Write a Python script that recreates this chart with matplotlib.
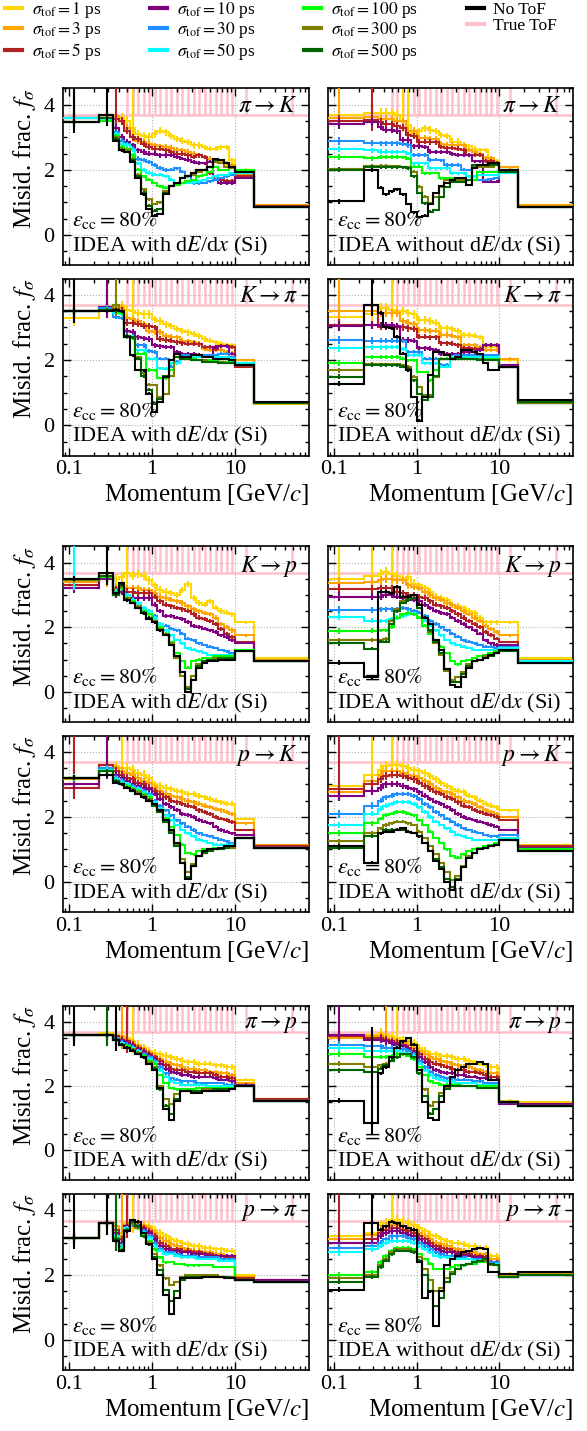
import numpy as np
import matplotlib
matplotlib.use("Agg")
import matplotlib.pyplot as plt
from matplotlib.lines import Line2D
from matplotlib.ticker import MultipleLocator, LogLocator, NullFormatter

plt.rcParams['font.family'] = ['Liberation Serif', 'DejaVu Serif']
plt.rcParams['mathtext.fontset'] = 'stix'
plt.rcParams['font.size'] = 16

# momentum bins [GeV/c]
edges = [0.0, 0.23, 0.341, 0.398, 0.464, 0.541, 0.631, 0.736, 0.858, 1.0,
         1.166, 1.36, 1.585, 1.848, 2.154, 2.512, 2.929, 3.415, 3.981, 4.642,
         5.412, 6.31, 7.356, 8.577, 10.0, 17.1, 80.0]

sigma_ps = [1, 3, 5, 10, 30, 50, 100, 300, 500]
colors = ['#FFD700', '#FFA500', '#B22222', '#800080', '#1E90FF',
          '#00FFFF', '#00FF00', '#808000', '#006400', 'black']
true_tof = 3.68

# per-bin uncertainty and relative size per series (1 ps ... No ToF)
base_err = [0.15, 0.12, 0.1, 0.1, 0.09, 0.09, 0.08, 0.08, 0.08, 0.07, 0.07, 0.07, 0.06,
            0.06, 0.06, 0.06, 0.06, 0.06, 0.05, 0.05, 0.05, 0.05, 0.05, 0.05, 0.03, 0.02]
err_scale = [1.6, 1.3, 1.2, 1.0, 0.8, 0.7, 0.6, 0.5, 0.5, 0.5]

# rows: 1, 3, 5, 10, 30, 50, 100, 300, 500 ps, No ToF
pik_with = [
    [3.6,3.7,3.65,3.6,3.5,3.3,3.1,3.05,3.0,3.1,3.2,3.15,3.05,2.95,2.9,2.85,2.75,2.75,2.7,2.65,2.65,2.7,2.7,2.3,2.0,0.93],
    [3.6,3.7,3.65,3.5,3.3,3.0,2.9,2.85,2.8,2.75,2.72,2.7,2.68,2.62,2.6,2.55,2.5,2.45,2.4,2.35,2.3,2.28,2.2,2.15,1.85,0.93],
    [3.6,3.7,3.55,3.5,3.2,3.0,2.95,2.8,2.7,2.65,2.65,2.6,2.55,2.5,2.5,2.45,2.4,2.45,2.4,1.9,1.75,1.7,1.65,1.65,1.8,0.9],
    [3.6,3.6,3.3,3.0,2.85,2.75,2.6,2.55,2.5,2.5,2.45,2.45,2.45,2.4,2.35,2.3,2.25,2.2,2.2,2.25,1.7,1.6,1.6,1.6,1.75,0.87],
    [3.6,3.6,3.15,2.9,2.8,2.65,2.35,2.3,2.25,2.15,2.05,2.0,2.0,2.05,1.95,1.8,1.6,1.6,1.6,1.65,1.7,1.75,1.8,1.85,1.9,0.87],
    [3.6,3.55,3.1,2.8,2.75,2.6,2.2,2.0,1.9,1.85,1.85,1.8,1.7,1.6,1.6,1.6,1.62,1.65,1.7,1.75,1.8,1.85,1.85,1.9,1.9,0.87],
    [3.47,3.5,3.05,2.7,2.65,2.45,2.0,1.8,1.7,1.6,1.5,1.45,1.5,1.55,1.6,1.65,1.7,1.8,1.85,1.95,2.1,2.0,2.0,2.05,2.0,0.87],
    [3.47,3.6,3.0,2.65,2.6,2.35,1.85,1.4,1.1,0.95,1.0,1.35,1.5,1.6,1.75,1.8,1.85,1.95,2.0,2.1,2.25,2.2,2.1,2.05,1.95,0.87],
    [3.47,3.6,2.95,2.6,2.55,2.3,1.8,1.3,0.9,0.75,0.8,1.3,1.5,1.6,1.75,1.8,1.9,2.0,2.0,2.1,2.3,2.3,2.2,2.1,1.95,0.87],
    [3.47,3.7,2.9,2.6,2.55,2.25,1.75,1.25,0.8,0.6,0.65,1.25,1.5,1.6,1.75,1.8,1.9,2.0,2.0,2.1,2.35,2.3,2.2,2.1,1.95,0.87],
]
pik_without = [
    [3.7,3.74,3.74,3.75,3.74,3.69,3.5,3.38,3.13,3.18,3.28,3.23,3.2,3.08,3.05,2.87,2.87,2.75,2.72,2.65,2.6,2.6,2.3,2.26,2.08,0.92],
    [3.6,3.64,3.56,3.55,3.55,3.5,3.5,3.2,3.2,2.97,2.97,2.95,2.95,2.8,2.77,2.77,2.75,2.75,2.6,2.56,2.5,2.36,2.36,2.2,2.08,0.92],
    [3.5,3.54,3.46,3.4,3.4,3.35,3.3,3.08,3.05,2.87,2.87,2.85,2.85,2.7,2.67,2.67,2.65,2.6,2.46,2.46,2.45,2.26,2.26,2.2,1.95,0.87],
    [3.4,3.46,3.33,3.23,3.23,3.2,2.92,2.92,2.72,2.72,2.7,2.56,2.56,2.55,2.55,2.5,2.46,2.46,2.45,2.26,2.26,1.64,1.64,1.64,1.9,0.87],
    [2.89,2.82,2.82,2.82,2.82,2.82,2.8,2.75,2.46,2.46,2.45,2.31,2.31,2.3,2.15,2.15,2.15,2.0,2.0,1.69,1.69,1.69,1.72,1.75,1.95,0.87],
    [2.64,2.6,2.56,2.56,2.56,2.56,2.56,2.5,2.2,2.2,2.2,2.05,2.05,2.05,2.05,1.9,1.9,1.9,1.8,1.8,1.85,1.85,1.85,1.85,1.92,0.87],
    [2.39,2.36,2.39,2.39,2.39,2.39,2.39,2.35,2.1,2.1,1.9,1.9,1.9,1.74,1.74,1.74,1.64,1.64,1.69,1.69,1.95,1.95,1.95,1.95,2.0,0.87],
    [2.02,2.12,2.12,2.12,2.12,2.12,2.08,2.08,1.95,1.49,1.18,0.97,1.18,1.49,1.69,1.69,1.69,1.69,1.69,2.1,2.1,2.1,2.1,2.15,2.0,0.87],
    [2.0,2.08,2.08,2.08,2.08,2.08,2.08,2.05,1.8,1.28,0.97,0.72,0.77,1.18,1.49,1.64,1.64,1.64,1.69,2.15,2.15,2.15,2.15,2.15,1.95,0.85],
    [1.03,2.0,1.45,1.25,1.35,1.4,1.25,0.95,0.7,0.55,0.6,0.95,1.3,1.5,1.6,1.7,1.75,1.75,1.55,2.05,2.15,2.15,2.2,2.2,2.0,0.85],
]
kpi_with = [
    [3.3,3.6,3.6,3.65,3.55,3.5,3.45,3.4,3.4,3.25,3.2,3.1,3.05,2.95,2.9,2.85,2.8,2.75,2.65,2.6,2.55,2.5,2.45,2.45,2.0,0.67],
    [3.49,3.64,3.6,3.6,3.3,3.25,3.2,3.1,2.9,2.85,2.85,2.75,2.72,2.7,2.6,2.58,2.55,2.5,2.35,2.3,2.3,2.3,2.25,2.2,2.0,0.7],
    [3.49,3.64,3.55,3.5,3.15,3.13,3.1,3.05,3.05,3.0,2.65,2.62,2.6,2.55,2.52,2.5,2.5,2.48,2.4,2.4,2.35,2.42,2.42,2.4,1.8,0.7],
    [3.49,3.64,3.55,3.45,2.9,2.87,2.7,2.67,2.65,2.45,2.42,2.4,2.4,2.25,2.2,2.2,2.2,2.15,2.15,2.15,2.4,2.42,2.42,2.2,1.85,0.7],
    [3.49,3.6,3.33,3.3,2.75,2.72,2.45,2.45,2.27,2.25,2.05,2.05,1.8,1.95,2.15,2.15,2.15,2.1,2.15,2.15,2.15,2.2,2.2,2.1,1.9,0.7],
    [3.49,3.55,3.45,3.4,2.75,2.72,2.3,2.3,2.05,2.05,1.75,1.74,1.9,1.9,2.1,2.1,2.1,2.1,2.1,2.1,2.1,2.1,2.1,2.05,1.9,0.7],
    [3.49,3.55,3.5,3.45,2.7,2.68,2.2,2.2,1.7,1.69,1.45,1.44,1.7,2.1,2.1,2.05,2.05,2.0,2.0,2.0,2.0,1.95,1.95,1.95,1.85,0.7],
    [3.49,3.55,3.69,3.5,2.75,2.7,2.1,1.6,1.25,1.23,0.87,0.97,1.5,2.1,2.05,2.05,2.0,2.0,2.0,1.95,1.95,1.95,1.9,1.9,1.85,0.7],
    [3.49,3.55,3.5,3.5,2.75,2.7,2.05,1.5,1.1,0.67,0.82,1.5,2.0,2.1,2.05,2.05,2.0,2.0,1.95,1.95,1.95,1.9,1.9,1.9,1.85,0.7],
    [3.49,3.49,3.55,3.5,2.72,2.15,1.7,1.69,0.97,0.41,0.72,1.49,2.0,2.2,2.1,2.1,2.15,2.15,2.1,2.1,2.05,2.05,2.05,2.0,1.85,0.72],
]
kpi_without = [
    [3.33,3.4,3.6,3.6,3.55,3.5,3.5,3.45,3.4,3.23,3.23,3.2,3.15,2.97,2.97,2.95,2.9,2.77,2.77,2.75,2.7,2.41,2.41,2.4,2.0,0.75],
    [3.49,3.5,3.44,3.44,3.44,3.44,3.2,3.15,3.1,2.92,2.92,2.9,2.9,2.77,2.77,2.75,2.7,2.46,2.46,2.45,2.4,2.31,2.31,2.3,2.05,0.72],
    [3.08,3.7,3.03,3.03,3.03,3.03,3.0,2.97,2.95,2.72,2.72,2.7,2.7,2.51,2.51,2.5,2.45,2.36,2.36,2.35,2.35,2.46,2.46,2.45,1.85,0.7],
    [3.05,3.08,3.08,3.08,3.08,3.05,2.62,2.62,2.6,2.36,2.36,2.35,2.3,2.2,2.2,2.2,2.2,2.25,2.25,2.25,2.3,2.46,2.46,2.45,1.85,0.7],
    [2.62,2.6,2.6,2.6,2.6,2.6,2.58,2.26,2.26,2.25,2.05,2.05,2.05,1.85,1.85,2.1,2.15,2.15,2.15,2.15,2.15,2.15,2.15,2.15,1.8,0.7],
    [2.36,2.39,2.39,2.39,2.39,2.39,2.35,2.15,2.15,2.15,1.9,1.9,1.9,1.8,1.8,2.1,2.1,2.1,2.1,2.1,2.1,2.1,2.1,2.1,1.8,0.7],
    [1.9,2.1,2.1,2.1,2.1,2.1,2.05,2.0,2.0,1.64,1.64,1.38,1.7,2.05,2.05,2.05,2.05,2.05,2.05,2.05,2.05,2.05,2.05,2.05,1.8,0.7],
    [1.69,1.87,1.87,1.87,1.87,1.87,1.85,1.8,1.49,1.18,0.92,0.92,1.49,2.05,2.05,2.05,2.05,2.05,2.05,2.05,2.05,2.0,2.0,2.0,1.8,0.7],
    [1.49,1.85,1.85,1.85,1.85,1.85,1.8,1.74,1.38,0.97,0.77,0.87,1.5,2.05,2.05,2.05,2.05,2.05,2.05,2.05,2.0,2.0,2.0,2.0,1.8,0.72],
    [1.28,3.69,3.44,3.0,2.97,2.72,2.2,1.69,0.87,0.15,0.87,1.54,2.26,2.26,2.15,2.05,2.1,2.31,2.31,2.25,2.2,1.9,1.69,1.69,1.8,0.77],
]
kp_with = [
    [3.45,3.6,3.5,3.56,3.67,3.6,3.65,3.6,3.45,3.3,3.15,3.1,3.05,3.0,3.15,3.35,2.9,2.75,2.7,2.8,2.6,2.5,2.45,2.4,2.15,1.05],
    [3.4,3.6,3.2,3.3,3.2,3.2,3.2,3.15,3.15,3.05,2.95,2.9,2.85,2.8,2.75,2.65,2.55,2.5,2.45,2.4,2.3,2.1,2.0,1.9,1.75,1.0],
    [3.3,3.55,3.15,3.25,3.1,3.1,3.05,3.05,3.05,2.95,2.8,2.7,2.65,2.6,2.55,2.5,2.4,2.3,2.25,2.2,2.1,1.95,1.8,1.7,1.55,0.95],
    [3.2,3.5,3.0,3.1,3.0,2.9,2.9,2.9,2.9,2.7,2.5,2.35,2.35,2.3,2.25,2.15,2.05,2.0,1.95,1.9,1.85,1.75,1.7,1.6,1.5,0.95],
    [3.45,3.55,3.1,3.2,3.0,2.85,2.75,2.6,2.5,2.35,2.1,2.05,1.95,1.9,1.8,1.65,1.6,1.5,1.45,1.4,1.35,1.3,1.25,1.2,1.3,0.95],
    [3.5,3.55,3.1,3.25,3.0,2.85,2.75,2.6,2.5,2.3,2.1,1.9,1.75,1.6,1.5,1.35,1.3,1.25,1.2,1.15,1.15,1.15,1.15,1.15,1.3,0.95],
    [3.45,3.55,3.05,3.2,2.9,2.8,2.6,2.5,2.4,2.2,2.0,1.8,1.55,1.2,0.95,0.75,0.95,1.0,1.05,1.05,1.1,1.1,1.1,1.1,1.3,0.95],
    [3.45,3.6,3.0,3.25,2.9,2.75,2.65,2.45,2.3,2.2,1.95,1.8,1.5,1.05,0.5,0.15,0.5,0.85,0.95,1.0,1.05,1.05,1.05,1.05,1.25,0.95],
    [3.5,3.6,3.0,3.3,2.85,2.75,2.6,2.45,2.3,2.15,1.9,1.75,1.45,1.1,0.6,0.1,0.35,0.8,0.95,1.0,1.0,1.05,1.05,1.05,1.25,0.95],
    [3.5,3.67,3.05,3.36,2.84,2.75,2.6,2.43,2.27,2.15,1.9,1.75,1.45,1.1,0.6,0.0,0.35,0.75,0.9,0.95,0.95,1.0,1.0,1.0,1.25,0.95],
]
kp_without = [
    [3.48,3.6,3.65,3.7,3.65,3.6,3.5,3.55,3.35,3.3,3.2,3.1,2.95,2.9,2.85,2.7,2.65,2.6,2.5,2.45,2.3,2.15,2.15,2.15,2.15,1.05],
    [3.36,3.4,3.45,3.5,3.5,3.45,3.45,3.3,3.25,3.2,3.1,3.0,2.9,2.85,2.75,2.7,2.6,2.5,2.4,2.3,2.2,2.05,1.95,1.85,1.75,1.0],
    [3.17,3.17,3.2,3.2,3.2,3.1,3.05,3.0,3.0,2.95,2.9,2.8,2.7,2.65,2.6,2.5,2.4,2.3,2.2,2.1,2.0,1.85,1.75,1.65,1.55,0.95],
    [2.95,2.95,2.95,3.0,3.0,2.95,2.9,2.85,2.85,2.8,2.7,2.6,2.5,2.45,2.4,2.3,2.2,2.1,2.0,1.9,1.8,1.6,1.5,1.45,1.45,0.95],
    [2.53,2.53,2.55,2.55,2.55,2.55,2.6,2.55,2.5,2.45,2.35,2.2,2.1,2.0,1.9,1.8,1.7,1.6,1.55,1.5,1.45,1.4,1.4,1.35,1.4,0.95],
    [2.33,2.2,2.2,2.2,2.25,2.3,2.35,2.4,2.4,2.3,2.2,2.05,1.9,1.75,1.6,1.5,1.45,1.4,1.35,1.3,1.3,1.3,1.3,1.3,1.35,0.95],
    [1.89,1.89,1.9,1.9,2.0,2.3,2.4,2.45,2.4,2.3,2.05,1.8,1.6,1.4,1.2,0.95,0.85,0.95,1.0,1.05,1.1,1.15,1.2,1.25,1.3,0.9],
    [1.6,1.6,1.6,1.65,2.2,2.55,2.8,2.9,2.9,2.6,2.3,1.85,1.5,1.15,0.65,0.35,0.45,0.6,0.85,0.95,1.0,1.1,1.15,1.2,1.25,0.9],
    [1.5,1.34,1.55,1.55,2.1,2.5,2.75,2.85,2.9,2.6,2.3,1.9,1.55,1.2,0.7,0.3,0.3,0.55,0.8,0.95,1.0,1.05,1.1,1.2,1.25,0.9],
    [0.9,0.47,3.1,3.1,3.05,3.25,2.95,2.95,3.0,2.7,2.3,2.1,1.6,1.3,0.7,0.2,0.15,0.45,0.75,0.95,1.0,1.05,1.15,1.2,1.3,0.9],
]
pk_with = [
    [3.2,3.6,3.55,3.5,3.5,3.45,3.35,3.3,3.2,3.0,2.95,2.9,2.85,2.8,2.75,2.7,2.7,2.65,2.6,2.55,2.5,2.45,2.4,2.4,1.95,1.15],
    [3.15,3.6,3.5,3.4,3.35,3.3,3.2,3.1,3.05,2.9,2.8,2.7,2.65,2.6,2.55,2.5,2.45,2.4,2.35,2.3,2.25,2.2,2.15,2.1,1.8,1.15],
    [2.9,3.6,3.4,3.3,3.2,3.15,3.05,3.0,2.9,2.8,2.7,2.6,2.5,2.45,2.4,2.35,2.3,2.2,2.15,2.1,2.0,1.95,1.9,1.85,1.6,1.1],
    [3.0,3.5,3.3,3.2,3.1,3.0,2.95,2.9,2.85,2.7,2.55,2.4,2.3,2.2,2.1,2.05,2.0,1.9,1.85,1.8,1.7,1.6,1.55,1.5,1.45,1.05],
    [3.2,3.5,3.2,3.1,3.0,2.95,2.9,2.8,2.7,2.5,2.35,2.2,2.05,1.9,1.8,1.7,1.6,1.5,1.45,1.4,1.35,1.3,1.25,1.2,1.35,1.05],
    [3.2,3.45,3.15,3.05,3.0,2.9,2.85,2.75,2.65,2.45,2.25,2.05,1.9,1.75,1.6,1.5,1.4,1.3,1.25,1.2,1.15,1.15,1.15,1.15,1.35,1.05],
    [3.2,3.4,3.1,3.0,2.95,2.85,2.8,2.7,2.6,2.4,2.2,1.95,1.7,1.45,1.15,0.9,0.85,0.95,1.0,1.0,1.05,1.05,1.1,1.1,1.35,1.05],
    [3.2,3.4,3.1,3.0,2.9,2.85,2.75,2.65,2.55,2.35,2.15,1.85,1.55,1.15,0.7,0.3,0.55,0.8,0.9,0.95,1.0,1.0,1.05,1.05,1.35,1.05],
    [3.2,3.4,3.1,3.0,2.9,2.8,2.7,2.6,2.5,2.35,2.15,1.85,1.5,1.1,0.6,0.15,0.5,0.8,0.9,0.95,1.0,1.0,1.05,1.1,1.35,1.05],
    [3.2,3.3,3.05,3.0,2.9,2.8,2.7,2.6,2.5,2.4,2.2,1.9,1.6,1.2,0.6,0.1,0.5,0.8,0.95,1.0,1.0,1.05,1.1,1.1,1.35,1.05],
]
pk_without = [
    [2.95,3.3,3.45,3.55,3.6,3.6,3.55,3.5,3.45,3.4,3.35,3.25,3.15,3.05,2.95,2.85,2.8,2.75,2.65,2.6,2.5,2.4,2.35,2.3,2.2,1.15],
    [2.75,3.1,3.3,3.4,3.4,3.4,3.35,3.3,3.25,3.2,3.1,3.0,2.9,2.8,2.75,2.7,2.6,2.5,2.45,2.4,2.3,2.2,2.15,2.1,2.0,1.1],
    [2.85,3.0,3.15,3.25,3.3,3.3,3.25,3.2,3.15,3.05,2.95,2.85,2.75,2.7,2.6,2.55,2.45,2.35,2.3,2.2,2.15,2.1,2.05,2.0,1.9,1.1],
    [2.65,2.8,2.9,3.0,3.0,3.0,2.95,2.9,2.85,2.75,2.65,2.55,2.45,2.4,2.3,2.2,2.1,2.0,1.95,1.9,1.85,1.8,1.75,1.7,1.6,1.05],
    [2.1,2.35,2.5,2.6,2.65,2.7,2.7,2.7,2.65,2.55,2.4,2.3,2.15,2.05,1.95,1.85,1.75,1.65,1.6,1.55,1.5,1.45,1.4,1.4,1.45,1.0],
    [1.75,2.1,2.25,2.35,2.4,2.45,2.45,2.45,2.4,2.3,2.15,2.0,1.85,1.75,1.65,1.55,1.45,1.4,1.35,1.3,1.3,1.3,1.3,1.3,1.35,1.0],
    [1.5,1.8,1.95,2.05,2.1,2.15,2.15,2.1,2.05,1.9,1.75,1.55,1.35,1.2,1.0,0.8,0.75,0.85,0.95,1.0,1.05,1.1,1.15,1.2,1.3,1.0],
    [1.25,1.5,1.65,1.75,1.8,1.85,1.85,1.8,1.75,1.55,1.35,1.1,0.85,0.6,0.3,0.05,0.2,0.5,0.8,0.9,1.0,1.05,1.1,1.15,1.3,0.95],
    [1.05,1.4,1.5,1.6,1.6,1.6,1.6,1.55,1.5,1.4,1.2,0.95,0.7,0.45,0.1,-0.15,0.1,0.45,0.75,0.9,1.0,1.05,1.1,1.15,1.3,0.95],
    [1.1,0.6,1.5,1.55,1.55,1.6,1.65,1.55,1.5,1.4,1.2,0.95,0.65,0.4,0.0,-0.25,0.05,0.45,0.75,0.9,1.0,1.05,1.1,1.15,1.3,0.95],
]
pip_with = [
    [3.6,3.65,3.6,3.55,3.5,3.4,3.3,3.2,3.1,3.05,3.0,2.95,2.9,2.85,2.8,2.75,2.75,2.7,2.7,2.7,2.65,2.65,2.6,2.6,2.2,1.6],
    [3.6,3.6,3.55,3.5,3.45,3.35,3.25,3.15,3.05,2.95,2.85,2.75,2.7,2.65,2.6,2.55,2.55,2.5,2.5,2.45,2.45,2.4,2.4,2.35,2.1,1.6],
    [3.6,3.6,3.55,3.45,3.4,3.3,3.2,3.1,3.0,2.9,2.8,2.65,2.55,2.5,2.5,2.45,2.45,2.4,2.4,2.4,2.35,2.3,2.3,2.25,2.05,1.6],
    [3.6,3.6,3.5,3.4,3.35,3.25,3.15,3.05,2.95,2.85,2.7,2.55,2.45,2.4,2.35,2.35,2.3,2.3,2.3,2.3,2.25,2.2,2.2,2.15,2.05,1.55],
    [3.6,3.6,3.5,3.35,3.3,3.2,3.1,3.0,2.9,2.8,2.6,2.4,2.25,2.2,2.15,2.15,2.15,2.1,2.1,2.1,2.1,2.1,2.05,2.05,2.0,1.55],
    [3.6,3.6,3.45,3.35,3.25,3.2,3.1,2.95,2.85,2.75,2.5,2.3,2.15,2.1,2.05,2.05,2.05,2.05,2.05,2.0,2.0,2.0,2.0,2.0,2.0,1.55],
    [3.6,3.6,3.45,3.3,3.25,3.15,3.05,2.95,2.8,2.7,2.35,2.1,1.95,1.9,1.9,1.9,1.9,1.95,1.95,1.95,1.95,1.95,1.95,1.95,2.0,1.55],
    [3.6,3.6,3.45,3.3,3.2,3.15,3.05,2.9,2.75,2.6,2.0,1.6,1.45,1.75,1.85,1.85,1.85,1.85,1.9,1.9,1.9,1.9,1.9,1.9,2.0,1.55],
    [3.6,3.6,3.45,3.3,3.2,3.1,3.0,2.9,2.7,2.55,1.9,1.4,1.15,1.6,1.85,1.85,1.85,1.85,1.85,1.85,1.9,1.9,1.9,1.9,2.0,1.55],
    [3.6,3.6,3.45,3.3,3.2,3.1,3.0,2.9,2.7,2.5,1.95,1.3,0.95,1.55,1.85,1.85,1.8,1.8,1.85,1.85,1.85,1.85,1.85,1.9,2.0,1.55],
]
pip_without = [
    [3.55,3.6,3.65,3.6,3.55,3.5,3.45,3.4,3.35,3.2,3.1,3.0,3.0,2.95,2.95,2.9,2.85,2.85,2.8,2.75,2.7,2.65,2.6,2.6,1.55,1.5],
    [3.5,3.55,3.55,3.5,3.45,3.4,3.35,3.3,3.2,3.1,3.0,2.9,2.85,2.8,2.75,2.7,2.65,2.6,2.6,2.55,2.5,2.45,2.4,2.4,1.5,1.45],
    [3.55,3.5,3.5,3.45,3.4,3.35,3.3,3.2,3.1,3.0,2.85,2.75,2.7,2.65,2.6,2.55,2.5,2.5,2.45,2.45,2.4,2.35,2.3,2.3,1.5,1.45],
    [3.6,3.45,3.45,3.4,3.35,3.3,3.25,3.15,3.05,2.9,2.75,2.6,2.5,2.45,2.4,2.4,2.35,2.35,2.3,2.3,2.25,2.25,2.2,2.2,1.45,1.45],
    [3.3,3.25,3.25,3.2,3.2,3.2,3.15,3.1,3.0,2.8,2.6,2.45,2.35,2.3,2.25,2.25,2.2,2.2,2.2,2.15,2.15,2.1,2.1,2.1,1.5,1.4],
    [3.2,3.1,3.1,3.1,3.1,3.1,3.05,3.0,2.95,2.7,2.5,2.35,2.25,2.2,2.15,2.15,2.1,2.1,2.1,2.1,2.05,2.05,2.05,2.05,1.5,1.4],
    [3.0,2.9,2.9,2.9,2.95,3.0,3.0,2.95,2.85,2.6,2.35,2.15,2.1,2.05,2.05,2.05,2.05,2.0,2.0,2.0,2.0,2.0,2.0,2.0,1.5,1.4],
    [2.7,2.6,2.65,2.7,2.8,2.9,3.0,3.0,2.9,2.5,1.9,1.4,1.5,1.8,1.95,2.0,2.0,2.0,2.0,2.0,1.95,1.95,1.95,1.95,1.5,1.4],
    [2.5,2.45,2.55,2.65,2.8,2.9,3.0,3.0,2.9,2.4,1.7,1.15,1.3,1.7,1.9,2.0,2.0,2.0,2.0,2.0,1.95,1.95,1.95,1.95,1.5,1.4],
    [1.55,0.85,2.4,2.6,2.9,3.2,3.4,3.5,3.3,2.5,1.5,1.0,0.95,1.5,2.0,2.3,2.5,2.6,2.7,2.7,2.75,2.7,2.2,2.2,1.5,1.4],
]
ppi_with = [
    [3.15,3.6,3.5,3.3,3.6,3.65,3.6,3.55,3.5,3.4,3.3,3.2,3.1,3.05,3.0,2.95,2.9,2.9,2.85,2.85,2.8,2.8,2.75,2.75,2.0,1.85],
    [3.15,3.6,3.5,3.2,3.55,3.6,3.55,3.5,3.45,3.3,3.15,3.05,2.95,2.9,2.85,2.8,2.75,2.75,2.7,2.7,2.65,2.65,2.6,2.6,1.95,1.85],
    [3.15,3.6,3.4,3.1,3.5,3.6,3.55,3.45,3.35,3.2,3.0,2.9,2.8,2.8,2.75,2.75,2.7,2.7,2.65,2.65,2.6,2.6,2.55,2.55,1.9,1.85],
    [3.15,3.6,3.3,3.0,3.5,3.6,3.5,3.4,3.3,3.1,2.9,2.8,2.75,2.75,2.7,2.7,2.65,2.65,2.65,2.6,2.6,2.6,2.6,2.6,1.85,1.85],
    [3.15,3.6,3.2,2.9,3.45,3.6,3.5,3.35,3.2,3.0,2.8,2.7,2.7,2.65,2.6,2.6,2.6,2.55,2.55,2.55,2.55,2.5,2.5,2.5,1.85,1.8],
    [3.15,3.6,3.2,2.85,3.45,3.6,3.45,3.3,3.15,2.9,2.75,2.65,2.65,2.6,2.55,2.55,2.55,2.5,2.5,2.5,2.5,2.45,2.45,2.45,1.85,1.8],
    [3.15,3.6,3.15,2.8,3.4,3.6,3.45,3.25,3.05,2.8,2.55,2.4,2.4,2.35,2.35,2.3,2.3,2.3,2.3,2.3,2.25,2.25,2.25,2.25,1.85,1.8],
    [3.15,3.6,3.1,2.75,3.4,3.6,3.45,3.2,3.0,2.65,2.3,1.9,1.7,1.8,1.95,2.0,2.0,2.0,2.0,2.0,2.0,1.95,1.95,1.95,1.85,1.8],
    [3.15,3.6,3.1,2.75,3.4,3.65,3.5,3.2,2.95,2.55,2.15,1.55,1.2,1.5,1.85,1.95,1.95,1.95,1.95,1.95,1.95,1.95,1.95,1.9,1.85,1.8],
    [3.15,3.6,3.05,2.75,3.35,3.7,3.65,3.3,2.95,2.5,2.0,1.4,0.8,1.3,1.9,1.9,1.9,1.9,1.95,1.95,1.95,1.95,1.9,1.9,1.85,1.8],
]
ppi_without = [
    [3.2,3.3,3.55,3.6,3.7,3.7,3.65,3.6,3.55,3.45,3.35,3.25,3.2,3.1,3.05,3.0,3.0,2.95,2.9,2.9,2.85,2.85,2.6,2.6,2.05,2.1],
    [3.1,3.25,3.4,3.5,3.55,3.55,3.5,3.45,3.4,3.3,3.2,3.1,3.0,2.95,2.9,2.85,2.8,2.75,2.7,2.7,2.65,2.65,2.5,2.5,2.0,2.05],
    [3.0,3.1,3.3,3.4,3.45,3.45,3.4,3.35,3.3,3.2,3.1,3.0,2.9,2.85,2.8,2.75,2.7,2.65,2.65,2.6,2.6,2.55,2.4,2.4,1.95,2.0],
    [3.0,3.0,3.2,3.3,3.35,3.35,3.3,3.25,3.2,3.1,3.0,2.9,2.8,2.75,2.7,2.7,2.65,2.6,2.6,2.55,2.55,2.5,2.4,2.4,1.95,2.0],
    [2.85,2.9,3.0,3.1,3.2,3.2,3.2,3.15,3.1,3.0,2.9,2.8,2.7,2.65,2.6,2.6,2.55,2.55,2.5,2.5,2.5,2.5,2.4,2.4,1.95,2.0],
    [2.7,2.8,2.9,3.0,3.05,3.05,3.05,3.05,3.0,2.9,2.8,2.7,2.6,2.55,2.55,2.5,2.5,2.5,2.5,2.45,2.45,2.45,2.35,2.35,1.95,2.0],
    [2.0,2.1,2.4,2.6,2.75,2.85,2.85,2.85,2.8,2.65,2.5,2.35,2.2,2.2,2.2,2.25,2.3,2.3,2.35,2.35,2.4,2.4,2.3,2.3,1.95,2.0],
    [1.9,2.0,2.3,2.5,2.7,2.8,2.8,2.8,2.75,2.55,2.2,1.85,1.5,1.6,1.9,2.1,2.2,2.3,2.35,2.4,2.45,2.45,2.3,2.3,1.95,2.0],
    [1.8,1.95,2.25,2.45,2.65,2.75,2.75,2.75,2.7,2.45,2.0,1.5,1.05,1.3,1.8,2.05,2.2,2.3,2.35,2.4,2.45,2.5,2.35,2.3,1.95,2.0],
    [1.55,3.6,3.4,3.5,3.65,3.6,3.5,3.45,3.4,2.4,1.3,1.5,0.45,1.5,2.3,2.5,2.6,2.7,2.75,2.8,2.85,2.8,2.1,2.1,2.05,2.1],
]

# (series index, bin index) of points whose error bar runs off the top
spikes = [
    [(4, 0), (9, 0), (9, 1), (2, 2), (0, 5)],
    [(1, 0), (2, 1), (0, 6), (0, 7)],
    [(6, 0), (9, 0), (1, 1), (3, 1), (7, 2), (0, 5)],
    [(1, 0), (9, 1), (0, 4)],
    [(5, 0), (9, 1), (1, 1), (0, 4)],
    [(0, 0), (0, 1), (0, 4)],
    [(2, 0), (3, 1), (1, 1), (0, 3)],
    [(2, 0), (0, 1), (0, 4)],
    [(9, 0), (8, 1), (9, 2), (1, 3), (0, 5), (2, 4)],
    [(3, 0), (9, 1), (1, 3), (0, 5)],
    [(9, 0), (9, 1), (8, 2), (1, 3), (0, 5), (2, 4)],
    [(2, 0), (9, 1), (0, 4)],
]

panels = [
    (pik_with, r'$\pi \rightarrow K$', 'with'),
    (pik_without, r'$\pi \rightarrow K$', 'without'),
    (kpi_with, r'$K \rightarrow \pi$', 'with'),
    (kpi_without, r'$K \rightarrow \pi$', 'without'),
    (kp_with, r'$K \rightarrow p$', 'with'),
    (kp_without, r'$K \rightarrow p$', 'without'),
    (pk_with, r'$p \rightarrow K$', 'with'),
    (pk_without, r'$p \rightarrow K$', 'without'),
    (pip_with, r'$\pi \rightarrow p$', 'with'),
    (pip_without, r'$\pi \rightarrow p$', 'without'),
    (ppi_with, r'$p \rightarrow \pi$', 'with'),
    (ppi_without, r'$p \rightarrow \pi$', 'without'),
]

W, H = 587, 1431
fig = plt.figure(figsize=(W / 100, H / 100), dpi=100)

row_px = [(88.5, 265), (278.5, 455.5), (546.5, 721.5), (735.5, 912), (1006, 1180), (1194, 1370)]
col_px = [(63, 309), (328, 573)]

e = np.array(edges)
centers = 0.5 * (e[:-1] + e[1:])
e_draw = np.maximum(e, 0.01)

for i, (data, label, mode) in enumerate(panels):
    r, c = divmod(i, 2)
    top, bot = row_px[r]
    x0, x1 = col_px[c]
    ax = fig.add_axes([x0 / W, 1 - bot / H, (x1 - x0) / W, (bot - top) / H])
    ax.set_xscale('log')

    # true ToF reference
    ax.stairs([true_tof] * (len(e) - 1), e_draw, color='pink', lw=1.8, baseline=None, zorder=1)
    ax.errorbar(centers[4:], [true_tof] * len(centers[4:]), yerr=[[0] * len(centers[4:]), [3] * len(centers[4:])],
                fmt='none', ecolor='pink', elinewidth=1.8, zorder=1)

    for k, vals in enumerate(data):
        err = np.array(base_err) * err_scale[k]
        ax.stairs(vals, e_draw, color=colors[k], lw=1.5, baseline=None, zorder=2 + k)
        ax.errorbar(centers, vals, yerr=err, fmt='none', ecolor=colors[k], elinewidth=1.5, zorder=2 + k)
    for k, b in spikes[i]:
        ax.errorbar([centers[b]], [data[k][b]], yerr=[[0.35], [3]], fmt='none',
                    ecolor=colors[k], elinewidth=1.5, zorder=2 + k)

    ax.set_xlim(0.085, 78)
    ax.set_ylim(-0.92, 4.5)
    ax.yaxis.set_major_locator(MultipleLocator(2))
    ax.yaxis.set_minor_locator(MultipleLocator(0.5))
    ax.xaxis.set_minor_locator(LogLocator(base=10, subs=np.arange(2, 10), numticks=20))
    ax.xaxis.set_minor_formatter(NullFormatter())
    ax.set_xticks([0.1, 1, 10])
    ax.set_xticklabels(['0.1', '1', '10'])
    ax.tick_params(which='both', direction='in', top=True, right=True, width=1, labelsize=16)
    ax.tick_params(which='major', length=6)
    ax.tick_params(which='minor', length=3)
    ax.tick_params(axis='y', pad=6)
    ax.grid(True, which='major', ls=':', color='0.7', lw=0.8)
    for s in ax.spines.values():
        s.set_linewidth(1.2)

    ax.text(0.955, 0.955, label, transform=ax.transAxes, ha='right', va='top', fontsize=17)
    ax.text(0.035, 0.255, r'$\varepsilon_\mathrm{cc} = 80\%$', transform=ax.transAxes,
            ha='left', va='center', fontsize=16)
    ax.text(0.035, 0.105, 'IDEA %s d$E$/d$x$ (Si)' % mode, transform=ax.transAxes,
            ha='left', va='center', fontsize=16)

    if r % 2 == 0:
        ax.tick_params(labelbottom=False)
    else:
        ax.set_xlabel('Momentum [GeV/$c$]', loc='right', fontsize=18, labelpad=2)
    if c == 0:
        ax.set_ylabel(r'Misid. frac. $f_\sigma$', loc='top', fontsize=18)
    else:
        ax.tick_params(labelleft=False)

handles = [Line2D([], [], color=colors[k], lw=3) for k in range(10)]
handles.append(Line2D([], [], color='pink', lw=3))
labels = [r'$\sigma_\mathrm{tof} = %d$ ps' % s for s in sigma_ps] + ['No ToF', 'True ToF']
fig.legend(handles, labels, ncol=4, loc='upper left', bbox_to_anchor=(0.008, 1.0),
           frameon=False, fontsize=12.5, handlelength=1.0, handletextpad=0.55,
           columnspacing=2.8, labelspacing=0.02, borderpad=0, borderaxespad=0)

fig.savefig('out.png', dpi=100)
